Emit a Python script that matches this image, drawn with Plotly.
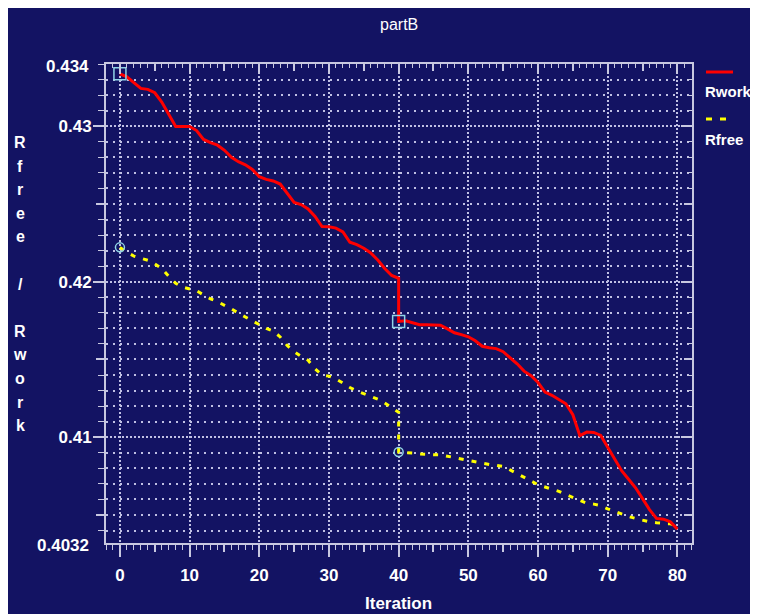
import plotly.graph_objects as go

# ---------------- data ----------------
iter_a = list(range(0, 41))
iter_b = list(range(40, 81))

rwork_a = [0.43337, 0.43318, 0.43280, 0.43243, 0.43237, 0.43215, 0.43155, 0.43080,
           0.42998, 0.42998, 0.42998, 0.42972, 0.42915, 0.42895, 0.42878, 0.42845,
           0.42800, 0.42772, 0.42752, 0.42722, 0.42675, 0.42658, 0.42648, 0.42628,
           0.42565, 0.42510, 0.42496, 0.42468, 0.42420, 0.42355, 0.42354, 0.42345,
           0.42320, 0.42254, 0.42238, 0.42215, 0.42185, 0.42140, 0.42085, 0.42040,
           0.42022]
rwork_b = [0.41745, 0.41749, 0.41738, 0.41723, 0.41723, 0.41723, 0.41720, 0.41697,
           0.41672, 0.41660, 0.41646, 0.41620, 0.41585, 0.41575, 0.41570, 0.41550,
           0.41512, 0.41472, 0.41425, 0.41396, 0.41352, 0.41290, 0.41270, 0.41245,
           0.41215, 0.41145, 0.41010, 0.41033, 0.41031, 0.41012, 0.40935, 0.40855,
           0.40785, 0.40730, 0.40675, 0.40605, 0.40535, 0.40478, 0.40473, 0.40456,
           0.40409]
rfree_a = [0.42221, 0.42190, 0.42165, 0.42150, 0.42138, 0.42115, 0.42085, 0.42035,
           0.41990, 0.41965, 0.41955, 0.41942, 0.41915, 0.41890, 0.41872, 0.41850,
           0.41825, 0.41798, 0.41773, 0.41750, 0.41722, 0.41700, 0.41683, 0.41645,
           0.41590, 0.41550, 0.41520, 0.41495, 0.41440, 0.41400, 0.41393, 0.41375,
           0.41348, 0.41320, 0.41298, 0.41282, 0.41265, 0.41245, 0.41220, 0.41190,
           0.41160]
rfree_b = [0.40905, 0.40903, 0.40898, 0.40892, 0.40888, 0.40888, 0.40887, 0.40878,
           0.40868, 0.40858, 0.40848, 0.40840, 0.40831, 0.40825, 0.40820, 0.40812,
           0.40790, 0.40765, 0.40745, 0.40720, 0.40695, 0.40680, 0.40667, 0.40652,
           0.40632, 0.40612, 0.40590, 0.40575, 0.40570, 0.40560, 0.40540, 0.40522,
           0.40505, 0.40490, 0.40478, 0.40465, 0.40456, 0.40450, 0.40446, 0.40443,
           0.40430]

series_names = ["Rwork", "Rfree"]
title_text = "partB"
x_title = "Iteration"
y_title = "Rfree / Rwork"
y_min_label, y_max_label = "0.4032", "0.434"
x_range = [-2.0, 82.1]
y_range = [0.4032, 0.434]

# ---------------- styling ----------------
NAVY = "#131363"
FRAME = "#c8c8e0"
GRID = "#c0c0e4"
CYAN = "#90d4e6"
FONT = "Liberation Sans"
W, H = 758, 614
OFF = 8  # page body margin: screen pixel = figure pixel + 8
L, R, T, B = 106 - OFF, 692 - OFF, 64 - OFF, 543 - OFF
PW, PH = R - L, B - T


def px2x(sx):
    return (sx - OFF - L) / PW


def py2y(sy):
    return (B - (sy - OFF)) / PH


tickfont = dict(family=FONT, size=17, color="white", weight="bold")
legfont = dict(family=FONT, size=15, color="white", weight="bold")

fig = go.Figure()

# Rfree (dashed yellow)
fig.add_trace(go.Scatter(x=iter_a + iter_b, y=rfree_a + rfree_b, mode="lines",
                         line=dict(color="#ffff00", width=3, dash="5px,8px"),
                         name=series_names[1], hoverinfo="skip"))
# Rwork (solid red)
fig.add_trace(go.Scatter(x=iter_a + iter_b, y=rwork_a + rwork_b, mode="lines",
                         line=dict(color="#ff0000", width=3),
                         name=series_names[0], hoverinfo="skip"))
# segment start markers
fig.add_trace(go.Scatter(x=[iter_a[0], iter_b[0]], y=[rwork_a[0], rwork_b[0]], mode="markers",
                         marker=dict(symbol="square-open", size=12, color=CYAN,
                                     line=dict(width=1.5, color=CYAN)),
                         hoverinfo="skip"))
fig.add_trace(go.Scatter(x=[iter_a[0], iter_b[0]], y=[rfree_a[0], rfree_b[0]], mode="markers",
                         marker=dict(symbol="circle-open", size=9, color=CYAN,
                                     line=dict(width=1.5, color=CYAN)),
                         hoverinfo="skip"))

# dummy traces so that the overlay tick axes are drawn
for xa, ya in [("x2", "y"), ("x3", "y"), ("x4", "y"), ("x", "y2"), ("x", "y3"), ("x", "y4")]:
    fig.add_trace(go.Scatter(x=[None], y=[None], xaxis=xa, yaxis=ya, mode="lines",
                             hoverinfo="skip", showlegend=False))


def tick_axis(**kw):
    d = dict(showgrid=False, zeroline=False, showline=False, showticklabels=False,
             tickcolor=FRAME, tickwidth=1.5, tickmode="linear", fixedrange=True)
    d.update(kw)
    return d


fig.update_layout(
    width=W, height=H,
    showlegend=False,
    paper_bgcolor=NAVY, plot_bgcolor=NAVY,
    margin=dict(l=L, r=W - R, t=T, b=H - B, autoexpand=False),
    xaxis=dict(range=x_range, tickmode="linear", tick0=0, dtick=10,
               ticks="outside", ticklen=12, tickwidth=1.5, tickcolor=FRAME,
               showline=True, linecolor=FRAME, linewidth=2, mirror=True,
               showgrid=True, gridcolor=GRID, gridwidth=1.5, griddash="1.5px,2.5px",
               zeroline=False, tickfont=tickfont, fixedrange=True, ticklabelstandoff=4,
               minor=dict(tick0=0, dtick=1, ticks="outside", ticklen=5, tickwidth=1.2,
                          tickcolor=FRAME, showgrid=False)),
    xaxis2=tick_axis(overlaying="x", anchor="y", side="bottom", range=x_range,
                     tick0=5, dtick=10, ticks="outside", ticklen=8),
    xaxis3=tick_axis(overlaying="x", anchor="y", side="top", range=x_range,
                     tick0=0, dtick=10, ticks="inside", ticklen=10,
                     minor=dict(tick0=0, dtick=1, ticks="inside", ticklen=4, tickwidth=1.2,
                                tickcolor=FRAME, showgrid=False)),
    xaxis4=tick_axis(overlaying="x", anchor="y", side="top", range=x_range,
                     tick0=5, dtick=10, ticks="inside", ticklen=7),
    yaxis=dict(range=y_range, tickmode="linear", tick0=0.40, dtick=0.01,
               ticks="outside", ticklen=11, tickwidth=1.5, tickcolor=FRAME,
               showline=True, linecolor=FRAME, linewidth=2, mirror=True,
               showgrid=True, gridcolor=GRID, gridwidth=1.5, griddash="1.5px,2.5px",
               zeroline=False, tickfont=tickfont, fixedrange=True, ticklabelstandoff=-2,
               minor=dict(tick0=0.40, dtick=0.001, ticks="outside", ticklen=6, tickwidth=1.2,
                          tickcolor=FRAME, showgrid=True, gridcolor=GRID, gridwidth=1.5,
                          griddash="2px,5px")),
    yaxis2=tick_axis(overlaying="y", anchor="x", side="left", range=y_range,
                     tick0=0.405, dtick=0.01, ticks="outside", ticklen=9),
    yaxis3=tick_axis(overlaying="y", anchor="x", side="right", range=y_range,
                     tick0=0.40, dtick=0.01, ticks="inside", ticklen=11,
                     minor=dict(tick0=0.40, dtick=0.001, ticks="inside", ticklen=5, tickwidth=1.2,
                                tickcolor=FRAME, showgrid=False)),
    yaxis4=tick_axis(overlaying="y", anchor="x", side="right", range=y_range,
                     tick0=0.405, dtick=0.01, ticks="inside", ticklen=8),
)

shapes = [
    # legend samples
    dict(type="line", xref="paper", yref="paper", x0=px2x(706), x1=px2x(733),
         y0=py2y(72), y1=py2y(72), line=dict(color="#ff0000", width=3)),
    dict(type="line", xref="paper", yref="paper", x0=px2x(706), x1=px2x(728),
         y0=py2y(119), y1=py2y(119), line=dict(color="#ffff00", width=3, dash="6px,8px")),
]

annotations = [
    dict(text=title_text, x=px2x(399), y=py2y(25), xref="paper", yref="paper",
         showarrow=False, xanchor="center", yanchor="middle",
         font=dict(family=FONT, size=16, color="white")),
    dict(text=x_title, x=px2x(398), y=py2y(603), xref="paper", yref="paper",
         showarrow=False, xanchor="center", yanchor="middle",
         font=dict(family=FONT, size=17, color="white", weight="bold")),
    dict(text=y_max_label, x=px2x(91), y=py2y(67), xref="paper", yref="paper",
         showarrow=False, xanchor="right", yanchor="middle", font=tickfont),
    dict(text=y_min_label, x=px2x(91), y=py2y(545.5), xref="paper", yref="paper",
         showarrow=False, xanchor="right", yanchor="middle", font=tickfont),
    dict(text=series_names[0], x=px2x(703), y=py2y(91), xref="paper", yref="paper",
         showarrow=False, xanchor="left", yanchor="middle", font=legfont),
    dict(text=series_names[1], x=px2x(703), y=py2y(139), xref="paper", yref="paper",
         showarrow=False, xanchor="left", yanchor="middle", font=legfont),
]
# stacked vertical y-axis title
for i, ch in enumerate(y_title):
    if ch.strip():
        annotations.append(dict(text=ch, x=px2x(20), y=py2y(142.5 + i * 23.6),
                                xref="paper", yref="paper", showarrow=False,
                                xanchor="center", yanchor="middle",
                                font=dict(family=FONT, size=16, color="white", weight="bold")))

fig.update_layout(shapes=shapes, annotations=annotations)
fig.write_html("out.html")
